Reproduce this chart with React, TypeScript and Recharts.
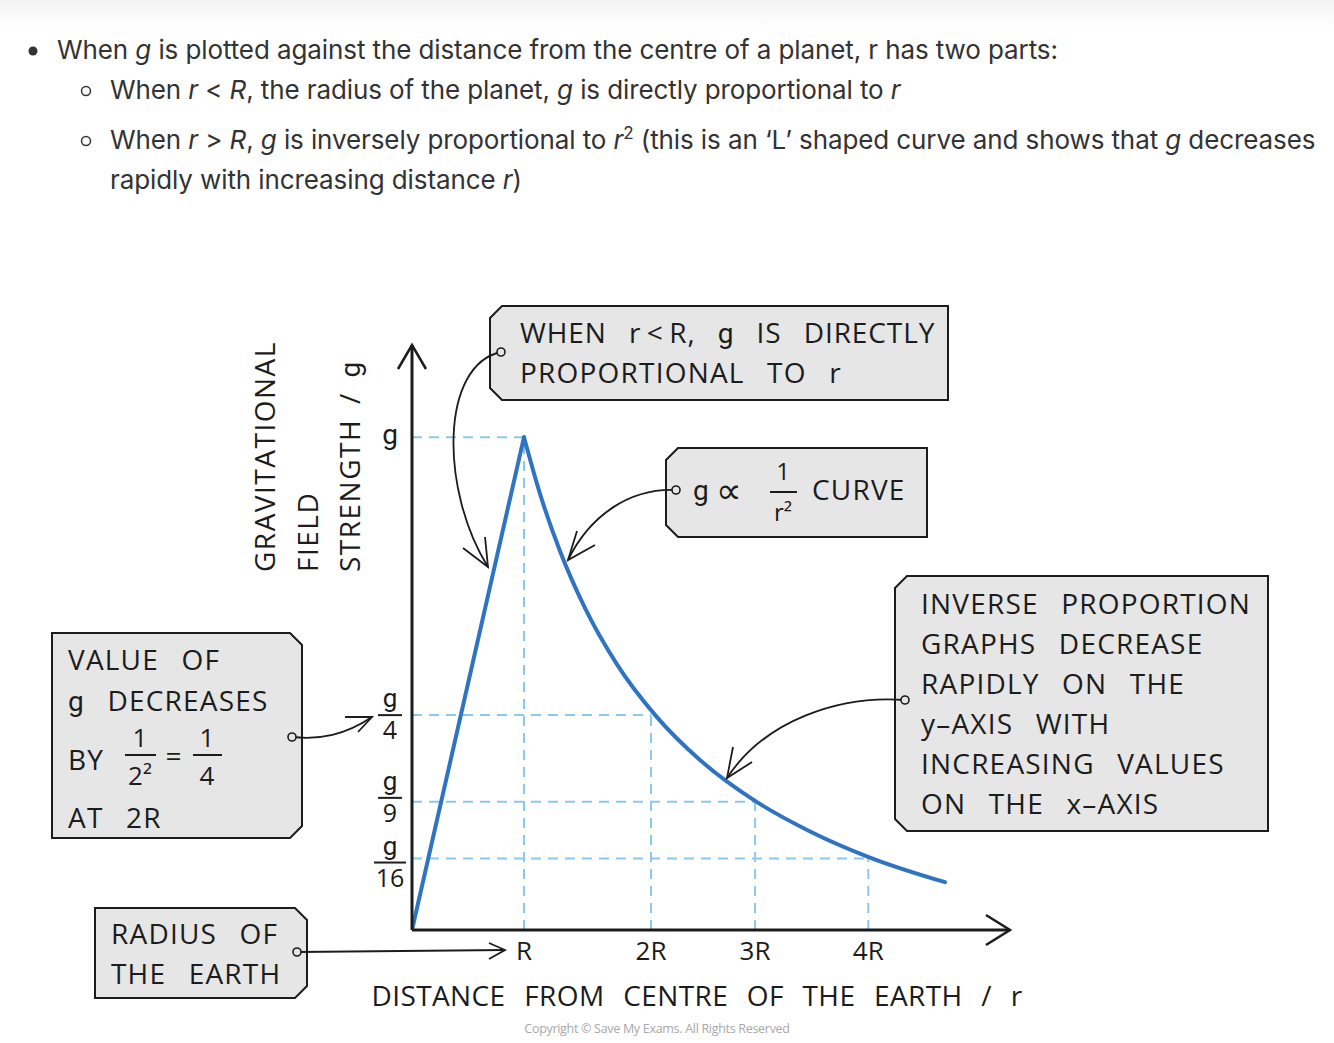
import { ComposedChart, Line, XAxis, YAxis, ReferenceLine, ReferenceDot } from 'recharts'

// values: x in units of R, y as a fraction of g (positions as drawn)
const riseX = [0, 1]
const riseY = [0, 1]
const curveX = [1, 1.143, 1.321, 1.545, 1.83, 2.179, 2.571, 3.063, 3.554, 4.089, 4.759]
const curveY = [1, 0.885, 0.769, 0.653, 0.539, 0.434, 0.345, 0.262, 0.2, 0.147, 0.097]

const xTicks = [1, 2.134, 3.063, 4.074]
const xTickLabels = ['R', '2R', '3R', '4R']
const yTicks = [1, 0.436, 0.26, 0.145]
const yTickDen = ['', '4', '9', '16']
const yTickNudge = [0, 0, -4, 4]

const X_MAX = 5.339
const Y_MAX = 1.187

const rise = riseX.map((x, i) => ({ x, y: riseY[i] }))
const curve = curveX.map((x, i) => ({ x, y: curveY[i] }))

const INK = '#1c1c1c'
const FONT = "'Open Sans', sans-serif"
const BLUE = '#2e74c2'
const DASH = '#8cc8ee'

// single-storey g like the hand lettering
const G = () => <tspan fontFamily="Roboto, sans-serif">g</tspan>

const XTick = ({ x, y, payload }: any) => {
  const i = xTicks.indexOf(payload.value)
  return (
    <text x={x} y={y + 22} textAnchor="middle" fontFamily={FONT} fontSize={26} fill={INK}>
      {xTickLabels[i]}
    </text>
  )
}

const YTick = ({ y: ty, payload, index }: any) => {
  const i = index ?? yTicks.indexOf(payload.value)
  const y = ty + yTickNudge[i]
  const cx = 390
  if (!yTickDen[i]) {
    return <text x={cx} y={y + 7} textAnchor="middle" fontFamily="Roboto, sans-serif" fontSize={28} fill={INK}>g</text>
  }
  const hw = yTickDen[i].length > 1 ? 16 : 12
  return (
    <g>
      <text x={cx} y={y - 8} textAnchor="middle" fontFamily="Roboto, sans-serif" fontSize={26} fill={INK}>g</text>
      <line x1={cx - hw} x2={cx + hw} y1={y} y2={y} stroke={INK} strokeWidth={2} />
      <text x={cx} y={y + 24} textAnchor="middle" fontFamily={FONT} fontSize={25} fill={INK}>{yTickDen[i]}</text>
    </g>
  )
}

const XArrow = ({ cx, cy }: any) => (
  <path d={`M${cx - 24},${cy - 15} L${cx},${cy} L${cx - 24},${cy + 15}`} fill="none" stroke={INK} strokeWidth={2.5} />
)
const YArrow = ({ cx, cy }: any) => (
  <path d={`M${cx - 14},${cy + 24} L${cx},${cy} L${cx + 14},${cy + 24}`} fill="none" stroke={INK} strokeWidth={2.5} />
)

// chamfered callout box, cut corners on the left or right side
function Box({ x, y, w, h, side }: { x: number; y: number; w: number; h: number; side: 'l' | 'r' }) {
  const c = 12
  const d = side === 'l'
    ? `M${x + c},${y} L${x + w},${y} L${x + w},${y + h} L${x + c},${y + h} L${x},${y + h - c} L${x},${y + c} Z`
    : `M${x},${y} L${x + w - c},${y} L${x + w},${y + c} L${x + w},${y + h - c} L${x + w - c},${y + h} L${x},${y + h} Z`
  return <path d={d} fill="#e6e6e6" stroke={INK} strokeWidth={2} />
}

const Dot = ({ x, y }: { x: number; y: number }) => (
  <circle cx={x} cy={y} r={4} fill="#e6e6e6" stroke={INK} strokeWidth={1.6} />
)

const T = ({ x, y, children, anchor = 'start', size = 28, ws = 14, ls = 1.2 }: any) => (
  <text x={x} y={y} textAnchor={anchor} fontFamily={FONT} fontSize={size} fill={INK}
    style={{ wordSpacing: ws, letterSpacing: ls }}>
    {children}
  </text>
)

const topText: React.CSSProperties = {
  position: 'absolute', whiteSpace: 'nowrap', fontFamily: 'Inter, sans-serif', fontSize: 26,
  color: '#333', letterSpacing: -0.1, lineHeight: '30px',
}

const box3Lines = ['INVERSE PROPORTION', 'GRAPHS DECREASE', 'RAPIDLY ON THE', 'y–AXIS WITH', 'INCREASING VALUES', 'ON THE x–AXIS']

export default function App() {
  const guides = xTicks.map((gx, i) => ({ gx, gy: yTicks[i] }))
  return (
    <div style={{ position: 'absolute', left: 0, top: 0, width: 1334, height: 1043, background: '#fff', overflow: 'hidden' }}>
      <div style={{ position: 'absolute', left: 0, top: 0, width: 1334, height: 28, background: 'linear-gradient(#f4f4f4, #fff)' }} />
      <div style={{ position: 'absolute', left: 0, top: 0 }}>
        <ComposedChart width={1334} height={1043} margin={{ top: 345, right: 324, bottom: 83, left: 352 }}>
          <XAxis type="number" dataKey="x" domain={[0, X_MAX]} allowDataOverflow ticks={xTicks} interval={0}
            height={30} axisLine={{ stroke: INK, strokeWidth: 3 }} tickLine={false} tick={<XTick />} />
          <YAxis type="number" dataKey="y" domain={[0, Y_MAX]} allowDataOverflow ticks={yTicks} interval={0}
            width={60} axisLine={{ stroke: INK, strokeWidth: 3 }} tickLine={false} tick={(p: any) => <YTick {...p} />} />
          {guides.map(({ gx, gy }, i) => (
            <ReferenceLine key={'h' + i} segment={[{ x: 0, y: gy }, { x: gx, y: gy }]}
              stroke={DASH} strokeWidth={2} strokeDasharray="10 7" />
          ))}
          {guides.map(({ gx, gy }, i) => (
            <ReferenceLine key={'v' + i} segment={[{ x: gx, y: 0 }, { x: gx, y: gy }]}
              stroke={DASH} strokeWidth={2} strokeDasharray="10 7" />
          ))}
          <Line data={rise} dataKey="y" type="linear" stroke={BLUE} strokeWidth={4} dot={false}
            strokeLinecap="round" isAnimationActive={false} />
          <Line data={curve} dataKey="y" type="monotone" stroke={BLUE} strokeWidth={4} dot={false}
            strokeLinecap="round" isAnimationActive={false} />
          <ReferenceDot x={X_MAX} y={0} r={0} ifOverflow="visible" shape={(p: any) => <XArrow {...p} />} />
          <ReferenceDot x={0} y={Y_MAX} r={0} ifOverflow="visible" shape={(p: any) => <YArrow {...p} />} />
        </ComposedChart>
      </div>

      <svg width={1334} height={1043} style={{ position: 'absolute', left: 0, top: 0, pointerEvents: 'none' }}>
        {/* axis titles */}
        <g fontFamily={FONT} fontSize={28} fill={INK} style={{ letterSpacing: 1.5 }}>
          <text transform="translate(275,572) rotate(-90)">GRAVITATIONAL</text>
          <text transform="translate(318,572) rotate(-90)">FIELD</text>
          <text transform="translate(360,572) rotate(-90)" style={{ wordSpacing: 6 }}>STRENGTH / <G /></text>
        </g>
        <T x={697} y={1006} anchor="middle" ws={11} ls={0.4}>DISTANCE FROM CENTRE OF THE EARTH / r</T>
        <text x={657} y={1033} textAnchor="middle" fontFamily={FONT} fontSize={12.5} fill="#a8a8a8" letterSpacing={-0.3}>
          Copyright © Save My Exams. All Rights Reserved
        </text>

        {/* box 1 */}
        <Box x={490} y={306} w={458} h={94} side="l" />
        <T x={520} y={343} ls={0.9}>WHEN r{'\u2009<\u2009'}R, <G /> IS DIRECTLY</T>
        <T x={520} y={383}>PROPORTIONAL TO r</T>
        <path d="M501,352 C440,365 440,490 488,567" fill="none" stroke={INK} strokeWidth={1.8} />
        <path d="M463,548 L488,567 L485,537" fill="none" stroke={INK} strokeWidth={1.8} />
        <Dot x={501} y={352} />

        {/* box 2 */}
        <Box x={666} y={448} w={261} h={89} side="l" />
        <text x={693} y={500} fontFamily="Roboto, sans-serif" fontSize={28} fill={INK}>g</text>
        <text x={716} y={503} fontFamily="'DejaVu Sans', sans-serif" fontSize={36} fill={INK}>∝</text>
        <text x={783} y={480} textAnchor="middle" fontFamily={FONT} fontSize={24} fill={INK}>1</text>
        <line x1={770} x2={797} y1={492} y2={492} stroke={INK} strokeWidth={2} />
        <text x={783} y={521} textAnchor="middle" fontFamily={FONT} fontSize={24} fill={INK}>r²</text>
        <T x={812} y={500}>CURVE</T>
        <path d="M676,490 C630,488 590,515 568,560" fill="none" stroke={INK} strokeWidth={1.8} />
        <path d="M595,545 L568,560 L577,531" fill="none" stroke={INK} strokeWidth={1.8} />
        <Dot x={676} y={490} />

        {/* box 3 */}
        <Box x={895} y={576} w={373} h={255} side="l" />
        {box3Lines.map((s, i) => <T key={s} x={921} y={614 + i * 40}>{s}</T>)}
        <path d="M905,700 C840,695 765,720 727,778" fill="none" stroke={INK} strokeWidth={1.8} />
        <path d="M752,762 L727,778 L733,747" fill="none" stroke={INK} strokeWidth={1.8} />
        <Dot x={905} y={700} />

        {/* box 4 */}
        <Box x={52} y={633} w={250} h={205} side="r" />
        <T x={68} y={670}>VALUE OF</T>
        <T x={68} y={711}><G /> DECREASES</T>
        <T x={68} y={770}>BY</T>
        <text x={140} y={747} textAnchor="middle" fontFamily={FONT} fontSize={26} fill={INK}>1</text>
        <line x1={125} x2={156} y1={755} y2={755} stroke={INK} strokeWidth={2} />
        <text x={140} y={785} textAnchor="middle" fontFamily={FONT} fontSize={26} fill={INK}>2²</text>
        <T x={174} y={766} anchor="middle">=</T>
        <text x={207} y={747} textAnchor="middle" fontFamily={FONT} fontSize={26} fill={INK}>1</text>
        <line x1={193} x2={222} y1={755} y2={755} stroke={INK} strokeWidth={2} />
        <text x={207} y={785} textAnchor="middle" fontFamily={FONT} fontSize={26} fill={INK}>4</text>
        <T x={68} y={828}>AT 2R</T>
        <path d="M292,737 C320,740 345,735 372,717" fill="none" stroke={INK} strokeWidth={1.8} />
        <path d="M345,717 L372,717 L358,732" fill="none" stroke={INK} strokeWidth={1.8} />
        <Dot x={292} y={737} />

        {/* box 5 */}
        <Box x={95} y={908} w={212} h={90} side="r" />
        <T x={111} y={944}>RADIUS OF</T>
        <T x={111} y={984}>THE EARTH</T>
        <path d="M297,952 L505,950" fill="none" stroke={INK} strokeWidth={1.8} />
        <path d="M489,943 L505,950 L489,959" fill="none" stroke={INK} strokeWidth={1.8} />
        <Dot x={297} y={952} />

        {/* bullets */}
        <circle cx={33} cy={51} r={4.5} fill="#333" />
        <circle cx={86} cy={91} r={4.5} fill="none" stroke="#333" strokeWidth={1.5} />
        <circle cx={86} cy={141} r={4.5} fill="none" stroke="#333" strokeWidth={1.5} />
      </svg>

      <div style={{ ...topText, left: 57, top: 35 }}>
        When <i>g</i> is plotted against the distance from the centre of a planet, r has two parts:
      </div>
      <div style={{ ...topText, left: 110, top: 75 }}>
        When <i>r</i> &lt; <i>R</i>, the radius of the planet, <i>g</i> is directly proportional to <i>r</i>
      </div>
      <div style={{ ...topText, left: 110, top: 125 }}>
        When <i>r</i> &gt; <i>R</i>, <i>g</i> is inversely proportional to <i>r</i><sup style={{ fontSize: 17, lineHeight: 0 }}>2</sup> (this is an ‘L’ shaped curve and shows that <i>g</i> decreases
      </div>
      <div style={{ ...topText, left: 110, top: 165 }}>
        rapidly with increasing distance <i>r</i>)
      </div>
    </div>
  )
}
